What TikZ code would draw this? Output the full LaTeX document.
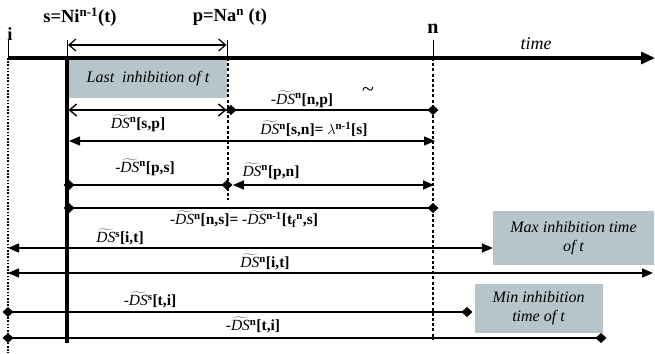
\documentclass[tikz,border=0pt]{standalone}
\usepackage{fontspec}
\setmainfont{Liberation Serif}
\usetikzlibrary{arrows.meta}
\definecolor{boxgray}{RGB}{182,197,201}
\newcommand\DSt{\ensuremath{\widetilde{\mathit{DS}}}}
\newcommand\sps[1]{\textsuperscript{\textbf{#1}}}
\tikzset{
  rowline/.style={line width=1.4pt},
  tri/.style={{Triangle[length=11pt,width=9pt]}-{Triangle[length=11pt,width=9pt]}},
  dia/.style={{Diamond[length=11pt,width=10pt]}-{Diamond[length=11pt,width=10pt]}, shorten <=-5.5pt, shorten >=-5.5pt},
  barb/.style={{Straight Barb[length=7pt,width=12pt]}-{Straight Barb[length=7pt,width=12pt]}},
  pdot/.style={line width=2.8pt, dash pattern=on 3pt off 2.2pt},
  idot/.style={line width=1.5pt, dash pattern=on 1.6pt off 1.6pt},
  tick/.style={line width=1pt},
  lbl/.style={inner sep=0pt, font=\fontsize{15.5}{17}\selectfont},
  graybox/.style={fill=boxgray, draw=none, align=center, font=\fontsize{16}{19}\selectfont\itshape},
  toplbl/.style={inner sep=0pt, font=\fontsize{18.5}{20}\selectfont\bfseries}
}
\begin{document}
\begin{tikzpicture}[x=1pt,y=-1pt]
\useasboundingbox (0,0) rectangle (655,353);
% gray boxes
\node[graybox, minimum width=158pt, minimum height=38pt] (last) at (148,79) {Last\ \ inhibition of t};
\node[graybox, minimum width=161pt, minimum height=54pt] (max) at (573.5,238) {Max inhibition time\\of t};
\node[graybox, minimum width=128pt, minimum height=49pt] (min) at (538.5,308.5) {Min inhibition\\time of t};
% key coordinates
\coordinate (ai) at (8,58);
\coordinate (aend) at (655,58);
\coordinate (ti) at (8,40);
\coordinate (ts) at (67,40);
\coordinate (tp) at (227,40);
\coordinate (tn) at (433,40);
\coordinate (as) at (67,58);
\coordinate (ap) at (228,58);
\coordinate (an) at (433,58);
\coordinate (sb) at (67,343);
\coordinate (ib) at (8,353);
\coordinate (pb) at (228,200);
\coordinate (nb) at (433,340);
% verticals
\draw[idot] (ai) -- (ib);
\draw[pdot] (ap) -- (pb);
\draw[pdot] (an) -- (nb);
\draw[line width=4pt] (as) -- (sb);
\draw[tick] (ti) -- (ai);
\draw[tick] (ts) -- (as);
\draw[tick] (tp) -- (tp |- ai);
\draw[tick] (tn) -- (an);
% axis
\draw[line width=3pt, -{Triangle[length=14pt,width=12pt]}] (ai) -- (aend);
% top interval
\coordinate (t1a) at (68,45);
\coordinate (t1b) at (226.5,45);
\draw[line width=1.2pt, barb] (t1a) -- (t1b);
% top labels
\node[toplbl] (slbl) at (80,17) {s=Ni\textsuperscript{n-1}(t)};
\node[toplbl] (plbl) at (230,17) {p=Na\textsuperscript{n} (t)};
\node[toplbl, anchor=south] (ilbl) at (10,41) {i};
\node[toplbl, font=\fontsize{20}{21}\selectfont\bfseries] (nlbl) at (433,29) {n};
\node[inner sep=0pt, font=\fontsize{18}{20}\selectfont\itshape] (time) at (536,44) {time};
% row 1
\coordinate (r1a) at (68.5,110);
\coordinate (r1b) at (226.5,110);
\coordinate (r1c) at (231,110);
\coordinate (r1d) at (433,110);
\draw[rowline, barb] (r1a) -- (r1b);
\draw[rowline, dia] (r1c) -- (r1d);
\node[lbl] (l1a) at (138,123) {\DSt\sps{n}\textbf{[s,p]}};
\node[lbl] (l1b) at (302,99) {-\DSt\sps{n}\textbf{[n,p]}};
\node[lbl, font=\fontsize{22}{22}\selectfont] (tilde) at (368,92) {\char`\~};
% row 2
\coordinate (r2a) at (69,141);
\coordinate (r2b) at (435,141);
\draw[rowline, tri] (r2a) -- (r2b);
\node[lbl] (l2) at (314,129) {\DSt\sps{n}\textbf{[s,n]=} $\lambda$\sps{n-1}\textbf{[s]}};
% row 3
\coordinate (r3a) at (69,185);
\coordinate (r3b) at (227,185);
\coordinate (r3c) at (233,185);
\coordinate (r3d) at (434,185);
\draw[rowline, dia] (r3a) -- (r3b);
\draw[rowline, tri] (r3c) -- (r3d);
\node[lbl] (l3a) at (145,167) {-\DSt\sps{n}\textbf{[p,s]}};
\node[lbl] (l3b) at (271,171) {\DSt\sps{n}\textbf{[p,n]}};
% row 4
\coordinate (r4a) at (69,208);
\coordinate (r4b) at (433,208);
\draw[rowline, dia] (r4a) -- (r4b);
\node[lbl] (l4) at (244,219) {-\DSt\sps{n}\textbf{[n,s]=} -\DSt\sps{n-1}\textbf{[t\textsubscript{f}\textsuperscript{n},s]}};
% row 5
\coordinate (r5a) at (8,248);
\draw[rowline, tri] (r5a) -- (max.west |- r5a);
\node[lbl] (l5) at (120,237) {\DSt\sps{s}\textbf{[i,t]}};
% row 6
\coordinate (r6a) at (8,273);
\coordinate (r6b) at (653,273);
\draw[rowline, tri] (r6a) -- (r6b);
\node[lbl] (l6) at (265,262) {\DSt\sps{n}\textbf{[i,t]}};
% row 7
\coordinate (r7a) at (8,312);
\coordinate (r7b) at (467,312);
\draw[rowline, dia] (r7a) -- (r7b);
\node[lbl] (l7) at (150,300) {-\DSt\sps{s}\textbf{[t,i]}};
% row 8
\coordinate (r8a) at (8,338);
\coordinate (r8b) at (601,338);
\draw[rowline, dia] (r8a) -- (r8b);
\node[lbl] (l8) at (253,325) {-\DSt\sps{n}\textbf{[t,i]}};
\end{tikzpicture}
\end{document}
